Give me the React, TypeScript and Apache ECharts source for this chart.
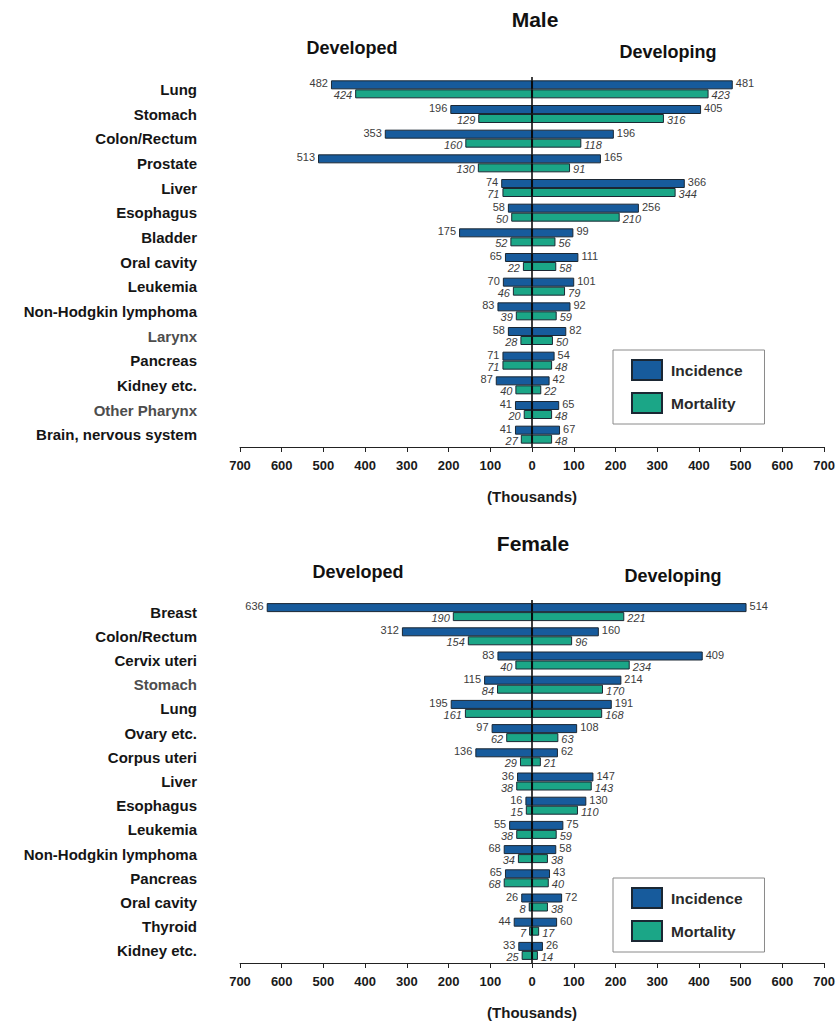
import React, { useEffect, useRef } from "react";
import * as echarts from "echarts";

const maleCategories = [
  "Lung", "Stomach", "Colon/Rectum", "Prostate", "Liver", "Esophagus", "Bladder",
  "Oral cavity", "Leukemia", "Non-Hodgkin lymphoma", "Larynx", "Pancreas",
  "Kidney etc.", "Other Pharynx", "Brain, nervous system",
];
const maleGrayLabels = ["Larynx", "Other Pharynx"];
const maleIncDeveloped = [482, 196, 353, 513, 74, 58, 175, 65, 70, 83, 58, 71, 87, 41, 41];
const maleIncDeveloping = [481, 405, 196, 165, 366, 256, 99, 111, 101, 92, 82, 54, 42, 65, 67];
const maleMortDeveloped = [424, 129, 160, 130, 71, 50, 52, 22, 46, 39, 28, 71, 40, 20, 27];
const maleMortDeveloping = [423, 316, 118, 91, 344, 210, 56, 58, 79, 59, 50, 48, 22, 48, 48];

const femaleCategories = [
  "Breast", "Colon/Rectum", "Cervix uteri", "Stomach", "Lung", "Ovary etc.",
  "Corpus uteri", "Liver", "Esophagus", "Leukemia", "Non-Hodgkin lymphoma",
  "Pancreas", "Oral cavity", "Thyroid", "Kidney etc.",
];
const femaleGrayLabels = ["Stomach"];
const femaleIncDeveloped = [636, 312, 83, 115, 195, 97, 136, 36, 16, 55, 68, 65, 26, 44, 33];
const femaleIncDeveloping = [514, 160, 409, 214, 191, 108, 62, 147, 130, 75, 58, 43, 72, 60, 26];
const femaleMortDeveloped = [190, 154, 40, 84, 161, 62, 29, 38, 15, 38, 34, 68, 8, 7, 25];
const femaleMortDeveloping = [221, 96, 234, 170, 168, 63, 21, 143, 110, 59, 38, 40, 38, 17, 14];

const tickValues = [-700, 700, 100];

const FONT = "'Liberation Sans', Arial, Helvetica, sans-serif";
const BLUE = "#175b9c";
const GREEN = "#1ba687";
const BORDER = "#1b2733";

function buildPanel(
  idx: number,
  top: number,
  categories: string[],
  gray: string[],
  incDev: number[],
  incDevg: number[],
  mortDev: number[],
  mortDevg: number[],
  legendTop: number
) {
  const grid = { left: 240, width: 588, top, height: 370, containLabel: false };
  const xAxis = {
    type: "value",
    gridIndex: idx,
    min: tickValues[0],
    max: tickValues[1],
    interval: tickValues[2],
    axisLine: { show: true, onZero: false, lineStyle: { color: "#222", width: 1 } },
    axisTick: { show: true, length: 5, lineStyle: { color: "#222" } },
    splitLine: { show: false },
    axisLabel: {
      formatter: (v: number) => String(Math.abs(v)),
      fontFamily: FONT,
      fontWeight: "bold",
      fontSize: 13,
      color: "#1a1a1a",
      margin: 12,
    },
    name: "(Thousands)",
    nameLocation: "middle",
    nameGap: 42,
    nameTextStyle: { fontFamily: FONT, fontWeight: "bold", fontSize: 15, color: "#1a1a1a" },
  };
  const yAxis = {
    type: "category",
    gridIndex: idx,
    inverse: true,
    data: categories.map((c) => ({
      value: c,
      textStyle: { color: gray.includes(c) ? "#4d4d4d" : "#151515" },
    })),
    axisLine: { show: false, onZero: false },
    axisTick: { show: false },
    axisLabel: {
      fontFamily: FONT,
      fontWeight: "bold",
      fontSize: 15,
      margin: 43,
    },
  };
  const valLabel = (pos: string, italic: boolean) => ({
    show: true,
    position: pos,
    distance: 3,
    offset: [0, italic ? 1.5 : -1.5],
    formatter: (p: any) => String(Math.abs(p.value)),
    fontFamily: FONT,
    fontSize: 11,
    fontStyle: italic ? "italic" : "normal",
    color: "#3c3c3c",
  });
  const common = {
    type: "bar",
    xAxisIndex: idx,
    yAxisIndex: idx,
    barWidth: 9,
    barGap: "0%",
  };
  const series = [
    {
      ...common,
      name: "Incidence",
      stack: "inc" + idx,
      data: incDev.map((v) => -v),
      itemStyle: { color: BLUE, borderColor: BORDER, borderWidth: 1 },
      label: valLabel("left", false),
      markLine: {
        silent: true,
        symbol: "none",
        label: { show: false },
        lineStyle: { color: "#000", width: 1.5, type: "solid" },
        data: [{ xAxis: 0 }],
        z: 10,
      },
    },
    {
      ...common,
      name: "Incidence",
      stack: "inc" + idx,
      data: incDevg,
      itemStyle: { color: BLUE, borderColor: BORDER, borderWidth: 1 },
      label: valLabel("right", false),
    },
    {
      ...common,
      name: "Mortality",
      stack: "mort" + idx,
      data: mortDev.map((v) => -v),
      itemStyle: { color: GREEN, borderColor: BORDER, borderWidth: 1 },
      label: valLabel("left", true),
    },
    {
      ...common,
      name: "Mortality",
      stack: "mort" + idx,
      data: mortDevg,
      itemStyle: { color: GREEN, borderColor: BORDER, borderWidth: 1 },
      label: valLabel("right", true),
    },
  ];
  const legend = {
    show: true,
    data: [
      { name: "Incidence", icon: "rect" },
      { name: "Mortality", icon: "rect" },
    ],
    orient: "vertical",
    left: 613,
    top: legendTop,
    itemWidth: 30,
    itemHeight: 20,
    itemGap: 11,
    padding: [9, 22, 10, 18],
    borderColor: "#8a8a8a",
    borderWidth: 1,
    selectedMode: false,
    textStyle: { fontFamily: FONT, fontWeight: "bold", fontSize: 15.5, color: "#2a2a2a", padding: [0, 0, 0, 4] },
  };
  return { grid, xAxis, yAxis, series, legend };
}

export default function App() {
  const ref = useRef<HTMLDivElement>(null);
  useEffect(() => {
    if (!ref.current) return;
    const chart = echarts.init(ref.current, undefined, { renderer: "svg" });
    const m = buildPanel(0, 77, maleCategories, maleGrayLabels, maleIncDeveloped, maleIncDeveloping, maleMortDeveloped, maleMortDeveloping, 350);
    const f = buildPanel(1, 600, femaleCategories, femaleGrayLabels, femaleIncDeveloped, femaleIncDeveloping, femaleMortDeveloped, femaleMortDeveloping, 878);
    const txt = (text: string, x: number, y: number, size: number) => ({
      type: "text",
      x,
      y,
      style: {
        text,
        fontFamily: FONT,
        fontWeight: "bold",
        fontSize: size,
        fill: "#111",
        textAlign: "center",
        textVerticalAlign: "middle",
      },
    });
    chart.setOption({
      animation: false,
      backgroundColor: "#ffffff",
      grid: [m.grid, f.grid],
      xAxis: [m.xAxis, f.xAxis],
      yAxis: [m.yAxis, f.yAxis],
      legend: [m.legend, f.legend],
      series: [...m.series, ...f.series],
      graphic: [
        txt("Male", 535, 19, 21),
        txt("Developed", 352, 48, 18),
        txt("Developing", 668, 52, 18),
        txt("Female", 533, 543, 21),
        txt("Developed", 358, 572, 18),
        txt("Developing", 673, 576, 18),
      ],
    });
    return () => chart.dispose();
  }, []);
  return (
    <div
      ref={ref}
      style={{ position: "absolute", left: 0, top: 0, width: 838, height: 1021 }}
    />
  );
}
